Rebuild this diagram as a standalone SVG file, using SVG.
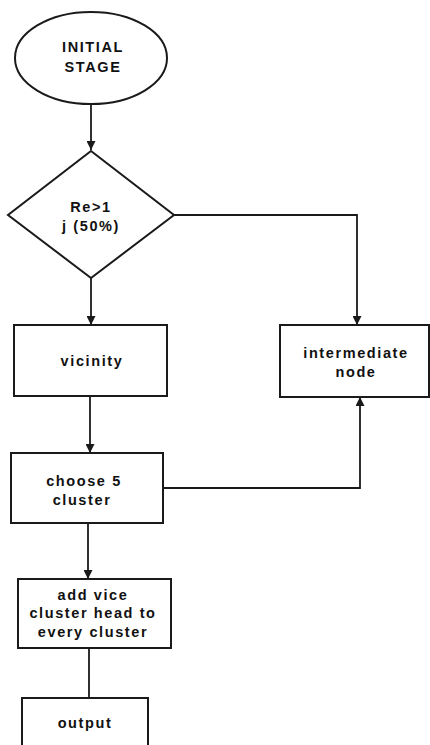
<svg xmlns="http://www.w3.org/2000/svg" width="430" height="745" viewBox="0 0 430 745">
<style>
.shape{fill:#fff;stroke:#1a1a1a;stroke-width:2}
.conn{fill:none;stroke:#1a1a1a;stroke-width:1.8}
text{font-family:"Liberation Sans",Arial,sans-serif;font-weight:bold;font-size:14.5px;letter-spacing:1.6px;text-anchor:middle;fill:#111}
</style>
<defs>
<marker id="ah" viewBox="0 0 10 10" refX="10" refY="5" markerWidth="5" markerHeight="5" orient="auto" markerUnits="strokeWidth">
<path d="M0,0 L10,5 L0,10 Z" fill="#1a1a1a"/>
</marker>
</defs>
<g id="connectors">
<line class="conn" x1="91" y1="104" x2="91" y2="150" marker-end="url(#ah)"/>
<line class="conn" x1="91" y1="278" x2="91" y2="325" marker-end="url(#ah)"/>
<line class="conn" x1="90" y1="396" x2="90" y2="453" marker-end="url(#ah)"/>
<line class="conn" x1="88" y1="523" x2="88" y2="579" marker-end="url(#ah)"/>
<line class="conn" x1="89" y1="648" x2="89" y2="698"/>
<polyline class="conn" points="173,215 357,215 357,325" marker-end="url(#ah)"/>
<polyline class="conn" points="163,488 360,488 360,397" marker-end="url(#ah)"/>
</g>
<g id="initial">
<ellipse class="shape" cx="91" cy="58" rx="76" ry="46"/>
<text x="93" y="52">INITIAL</text>
<text x="93" y="72">STAGE</text>
</g>
<g id="decision">
<polygon class="shape" points="91,151 174,215 91,278 8,215"/>
<text x="91" y="212">Re&gt;1</text>
<text x="91" y="231">j (50%)</text>
</g>
<g id="vicinity">
<rect class="shape" x="14" y="325" width="153" height="71"/>
<text x="92" y="366">vicinity</text>
</g>
<g id="choose">
<rect class="shape" x="11" y="453" width="152" height="70"/>
<text x="84" y="486">choose 5</text>
<text x="82" y="505">cluster</text>
</g>
<g id="intermediate">
<rect class="shape" x="280" y="325" width="149" height="72"/>
<text x="356" y="358">intermediate</text>
<text x="356" y="377">node</text>
</g>
<g id="addvice">
<rect class="shape" x="18" y="579" width="153" height="69"/>
<text x="93" y="600">add vice</text>
<text x="93" y="618">cluster head to</text>
<text x="93" y="637">every cluster</text>
</g>
<g id="output">
<rect class="shape" x="22" y="698" width="126" height="50"/>
<text x="85" y="728">output</text>
</g>
</svg>
